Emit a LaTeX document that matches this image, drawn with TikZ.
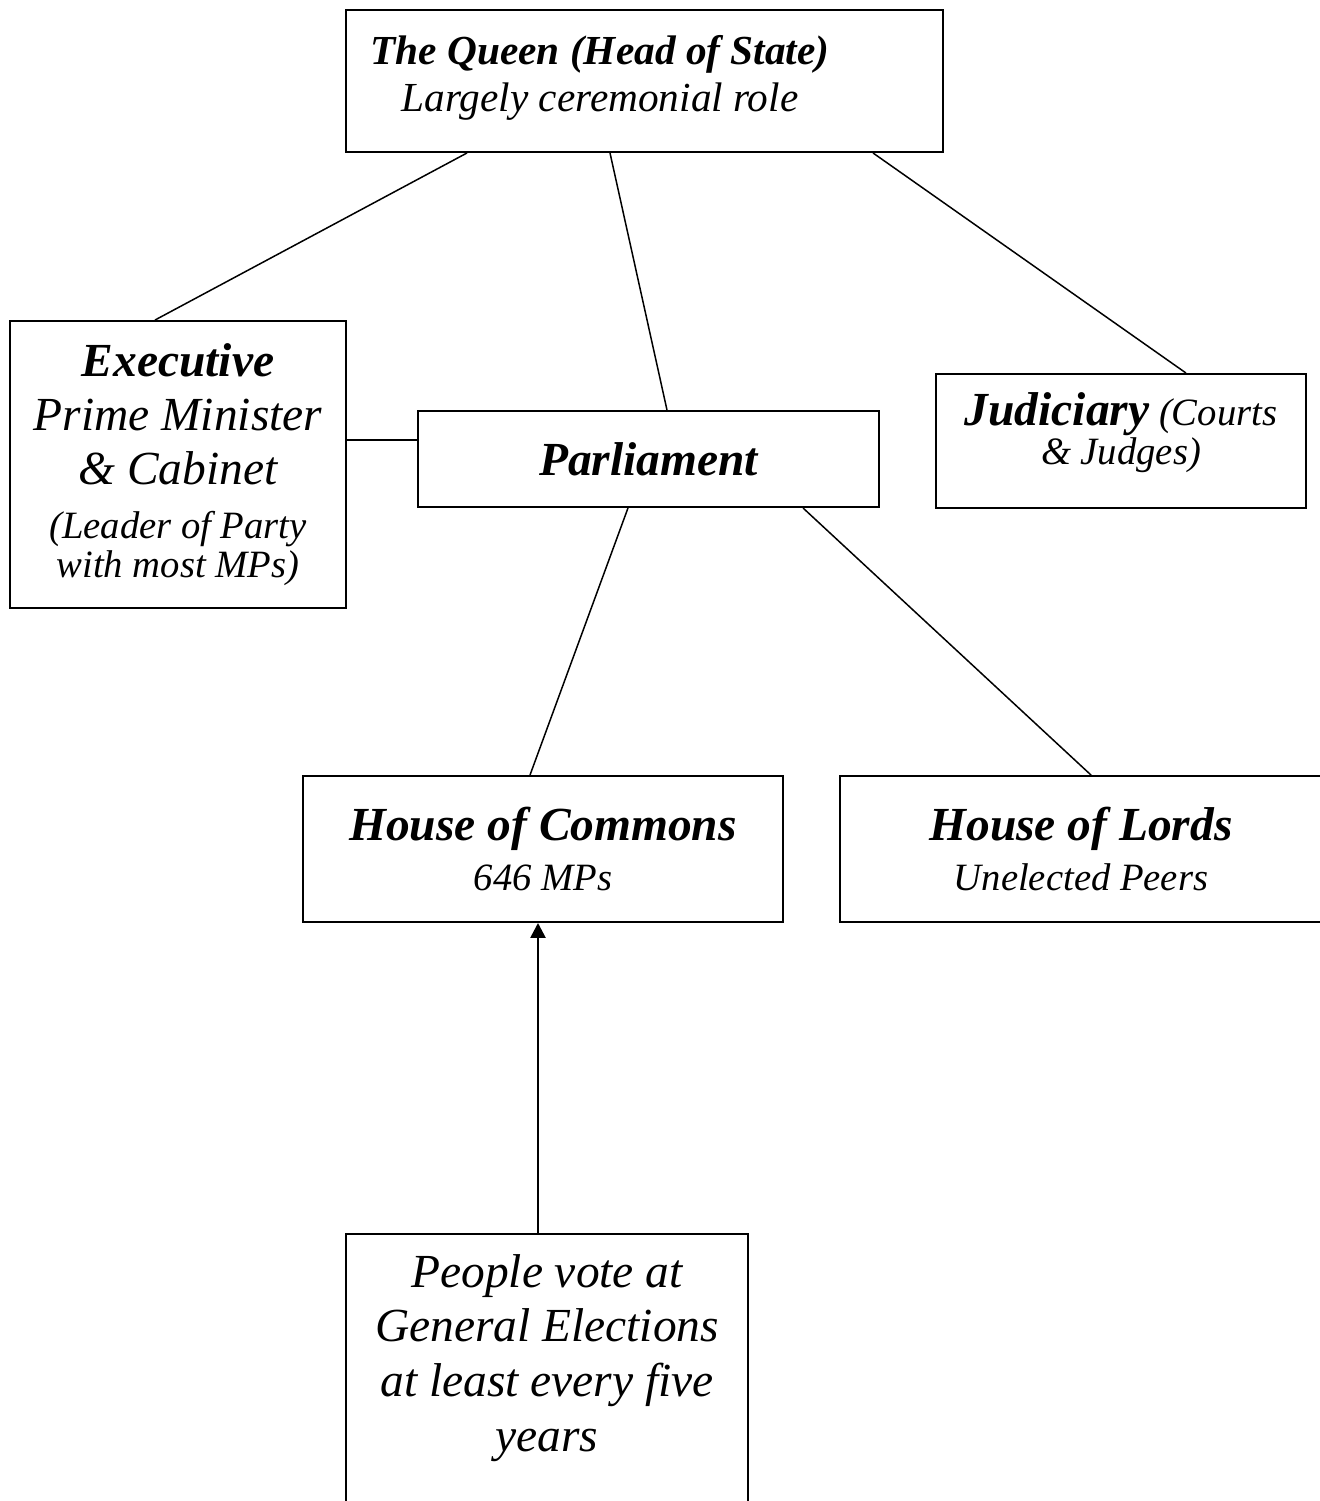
\documentclass[tikz,border=0pt]{standalone}
\usepackage{fontspec}
\setmainfont{Liberation Serif}
\usepackage{tikz}
\usetikzlibrary{arrows.meta, positioning}

\tikzset{
	govbox/.style={draw, rectangle, line width=1.1pt, inner sep=0pt, align=center},
	boxtext/.style={align=center, inner sep=0pt},
	link/.style={line width=0.85pt},
	vote/.style={line width=1.5pt, -{Triangle[width=0.3cm, length=0.3cm]}},
}

\begin{document}
\begin{tikzpicture}
	\useasboundingbox (0,0) rectangle (26.38,-30.02);
	% head of state
	\node [govbox, minimum width=11.94cm, minimum height=2.84cm] (queen) at (12.89,-1.62) {};
	\node [boxtext, font=\fontsize{23.5}{26.7}\selectfont\itshape] (queentext) at ([xshift=-0.89cm, yshift=0.06cm]queen.center) {\textbf{The Queen (Head of State)}\\Largely ceremonial role};
	% middle row
	\node [govbox, minimum width=6.72cm, minimum height=5.74cm, font=\fontsize{27}{30.7}\selectfont\itshape] (exec) at (3.56,-9.29) {\textbf{Executive}\\Prime Minister\\\& Cabinet\\{\fontsize{22}{24}\selectfont (Leader of Party}\\[-8.5pt]{\fontsize{22}{24}\selectfont with most MPs)}};
	\node [govbox, minimum width=9.22cm, minimum height=1.92cm, font=\fontsize{27}{31}\selectfont\itshape\bfseries] (parl) at (12.97,-9.18) {Parliament};
	\node [govbox, minimum width=7.4cm, minimum height=2.68cm] (judi) at (22.42,-8.82) {};
	\node [boxtext, font=\fontsize{22}{22.2}\selectfont\itshape] (juditext) at ([yshift=0.17cm]judi.center) {{\fontsize{27}{22.2}\selectfont\bfseries Judiciary} (Courts\\\& Judges)};
	% the two houses
	\node [govbox, minimum width=9.6cm, minimum height=2.92cm, font=\fontsize{27}{28.5}\selectfont\itshape] (commons) at (10.86,-16.98) {\textbf{House of Commons}\\{\fontsize{22}{24}\selectfont 646 MPs}};
	\node [govbox, minimum width=9.64cm, minimum height=2.92cm, font=\fontsize{27}{28.5}\selectfont\itshape] (lords) at (21.62,-16.98) {\textbf{House of Lords}\\{\fontsize{22}{24}\selectfont Unelected Peers}};
	% voters (box runs off the page)
	\node [govbox, minimum width=8.04cm, minimum height=6cm] (people) at (10.94,-27.68) {};
	\node [boxtext, below=0.42cm of people.north, font=\fontsize{27}{31.1}\selectfont\itshape] (peopletext) {People vote at\\General Elections\\at least every five\\years};
	% links
	\draw [link] ([xshift=-3.55cm]queen.south) -- ([xshift=-0.46cm]exec.north);
	\draw [link] ([xshift=-0.69cm]queen.south) -- ([xshift=0.37cm]parl.north);
	\draw [link] ([xshift=4.57cm]queen.south) -- ([xshift=1.3cm]judi.north);
	\draw [link] ([yshift=0.38cm]parl.west) -- ([yshift=0.38cm]parl.west -| exec.east);
	\draw [link] ([xshift=-0.41cm]parl.south) -- ([xshift=-0.26cm]commons.north);
	\draw [link] ([xshift=3.09cm]parl.south) -- ([xshift=0.2cm]lords.north);
	% election arrow
	\draw [vote] ([xshift=-0.18cm]people.north) -- ([xshift=-0.18cm]people.north |- commons.south);
\end{tikzpicture}
\end{document}
